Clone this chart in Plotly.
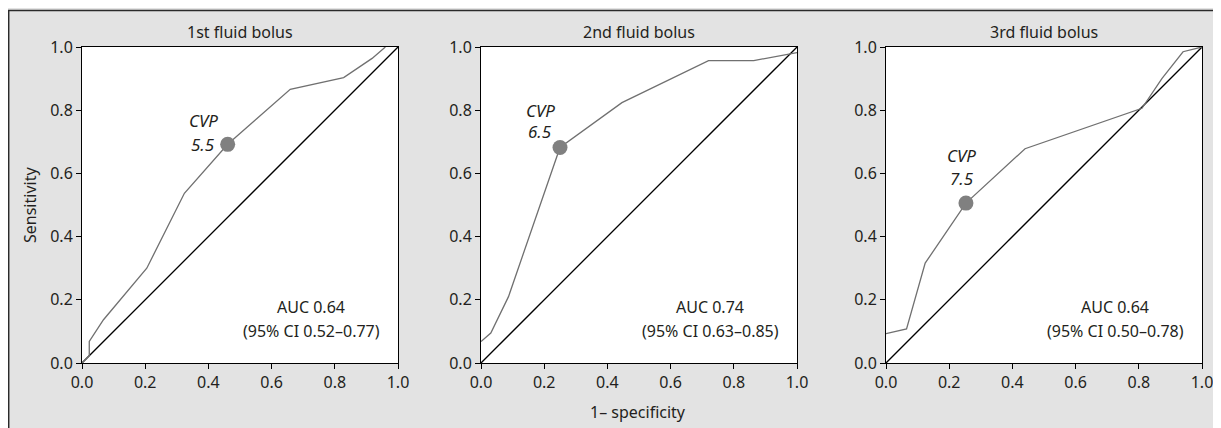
import plotly.graph_objects as go

# The page body has an 8px margin, so the figure sits at (8, 8) in the window.
OFF = 8
W, H = 1221 - OFF, 428 - OFF

titles = ["1st fluid bolus", "2nd fluid bolus", "3rd fluid bolus"]

fpr1 = [0.0, 0.023, 0.023, 0.068, 0.205, 0.324, 0.461, 0.659, 0.828, 0.918, 0.96]
tpr1 = [0.0, 0.023, 0.068, 0.137, 0.300, 0.537, 0.692, 0.866, 0.903, 0.964, 1.0]

fpr2 = [0.0, 0.031, 0.087, 0.250, 0.446, 0.720, 0.863, 1.0]
tpr2 = [0.068, 0.095, 0.210, 0.682, 0.824, 0.957, 0.957, 0.982]

fpr3 = [0.0, 0.065, 0.124, 0.253, 0.440, 0.810, 0.873, 0.940, 1.0]
tpr3 = [0.093, 0.108, 0.316, 0.506, 0.678, 0.806, 0.900, 0.985, 1.0]

cut_x = [0.461, 0.250, 0.253]
cut_y = [0.692, 0.682, 0.506]
cut_labels = ["5.5", "6.5", "7.5"]
auc_text = ["AUC 0.64", "AUC 0.74", "AUC 0.64"]
ci_text = ["(95% CI 0.52–0.77)", "(95% CI 0.63–0.85)", "(95% CI 0.50–0.78)"]

# label positions (data coords) for CVP text: x, y of "CVP", y of value
cvp_pos = [(0.383, 0.769, 0.693), (0.187, 0.800, 0.734), (0.240, 0.658, 0.585)]

ticks = [0.0, 0.2, 0.4, 0.6, 0.8, 1.0]
tick_text = ["0.0", "0.2", "0.4", "0.6", "0.8", "1.0"]

FONT = "Noto Sans"
TXT = "#231f20"
CURVE = "#707070"
MARK = "#808080"
BG = "#e3e3e3"

# plot-area pixel extents in the window
panels_px = [(82, 398), (481, 797), (886, 1202)]
ytop, ybot = 47, 363


def px(xw):
    return (xw - OFF) / W


def py(yw):
    return 1 - (yw - OFF) / H


fig = go.Figure()
curves = [(fpr1, tpr1), (fpr2, tpr2), (fpr3, tpr3)]
annotations = []
for i, (fx, ty) in enumerate(curves):
    n = "" if i == 0 else str(i + 1)
    xa, ya = "x" + n, "y" + n
    fig.add_trace(go.Scatter(x=[0, 1], y=[0, 1], mode="lines",
                             line=dict(color="black", width=1.3),
                             xaxis=xa, yaxis=ya, showlegend=False, hoverinfo="skip"))
    fig.add_trace(go.Scatter(x=fx, y=ty, mode="lines",
                             line=dict(color=CURVE, width=1.3),
                             xaxis=xa, yaxis=ya, showlegend=False))
    fig.add_trace(go.Scatter(x=[cut_x[i]], y=[cut_y[i]], mode="markers",
                             marker=dict(color=MARK, size=15),
                             xaxis=xa, yaxis=ya, showlegend=False))
    x0, x1 = panels_px[i]
    axkw = dict(range=[0, 1], showgrid=False, zeroline=False, showline=True,
                linecolor="black", linewidth=1, mirror=True, ticks="outside",
                ticklen=5, tickcolor="black", tickvals=ticks, ticktext=tick_text,
                tickfont=dict(family=FONT, size=16, color=TXT), fixedrange=True,
                automargin=False)
    fig.update_layout(**{
        ("xaxis" + n): dict(domain=[px(x0), px(x1)], anchor=ya, **axkw),
        ("yaxis" + n): dict(domain=[py(ybot), py(ytop)], anchor=xa, **axkw),
    })
    annotations.append(dict(text=titles[i], xref="paper", yref="paper",
                            x=px((x0 + x1) / 2), y=py(32), showarrow=False,
                            xanchor="center", yanchor="middle",
                            font=dict(family=FONT, size=16, color=TXT)))
    cx, cy1, cy2 = cvp_pos[i]
    annotations.append(dict(text="<i>CVP</i>", xref=xa, yref=ya, x=cx, y=cy1,
                            showarrow=False, xanchor="center", yanchor="middle",
                            font=dict(family=FONT, size=17, color=TXT)))
    annotations.append(dict(text="<i>" + cut_labels[i] + "</i>", xref=xa, yref=ya, x=cx, y=cy2,
                            showarrow=False, xanchor="center", yanchor="middle",
                            font=dict(family=FONT, size=17, color=TXT)))
    annotations.append(dict(text=auc_text[i], xref=xa, yref=ya, x=0.725, y=0.177,
                            showarrow=False, xanchor="center", yanchor="middle",
                            font=dict(family=FONT, size=16, color=TXT)))
    annotations.append(dict(text=ci_text[i], xref=xa, yref=ya, x=0.725, y=0.10,
                            showarrow=False, xanchor="center", yanchor="middle",
                            font=dict(family=FONT, size=16, color=TXT)))

annotations.append(dict(text="Sensitivity", xref="paper", yref="paper",
                        x=px(30), y=py(205), textangle=-90, showarrow=False,
                        xanchor="center", yanchor="middle",
                        font=dict(family=FONT, size=16, color=TXT)))
annotations.append(dict(text="1– specificity", xref="paper", yref="paper",
                        x=px(638), y=py(412), showarrow=False,
                        xanchor="center", yanchor="middle",
                        font=dict(family=FONT, size=16, color=TXT)))

shapes = [
    dict(type="line", xref="paper", yref="paper", x0=0, x1=1, y0=py(10.5), y1=py(10.5),
         line=dict(color="#2a2a2a", width=1.5)),
    dict(type="line", xref="paper", yref="paper", x0=px(8.7), x1=px(8.7), y0=0, y1=py(10.5),
         line=dict(color="#2a2a2a", width=1.5)),
]

fig.update_layout(width=W, height=H, margin=dict(l=0, r=0, t=0, b=0, autoexpand=False),
                  paper_bgcolor=BG, plot_bgcolor="white",
                  annotations=annotations, shapes=shapes, showlegend=False,
                  font=dict(family=FONT, color=TXT))

fig.write_html("out.html", config={"displayModeBar": False},
               post_script="document.body.style.overflow='hidden';")
